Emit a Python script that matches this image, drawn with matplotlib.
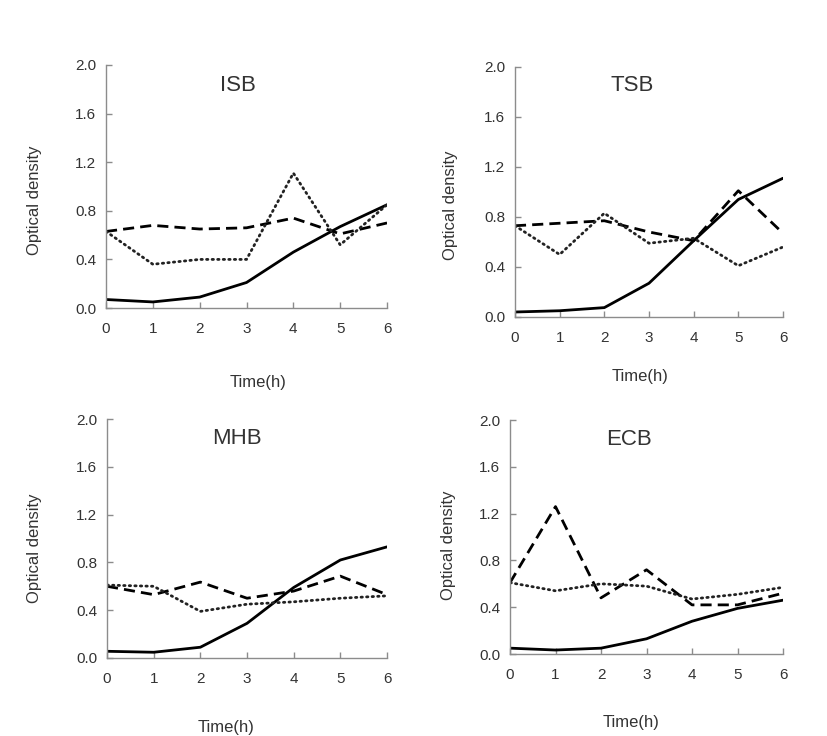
import matplotlib
matplotlib.use("Agg")
import matplotlib.pyplot as plt

plt.rcParams['font.family'] = ['Liberation Sans', 'DejaVu Sans']

# Data (optical density vs time)
hours = [0, 1, 2, 3, 4, 5, 6]

isb_solid = [0.07, 0.05, 0.09, 0.21, 0.46, 0.67, 0.85]
isb_dashed = [0.63, 0.68, 0.65, 0.66, 0.74, 0.61, 0.70]
isb_dotted = [0.63, 0.36, 0.40, 0.40, 1.11, 0.52, 0.85]

tsb_solid = [0.04, 0.05, 0.075, 0.27, 0.61, 0.94, 1.11]
tsb_dashed = [0.73, 0.75, 0.77, 0.68, 0.61, 1.01, 0.67]
tsb_dotted = [0.73, 0.50, 0.83, 0.59, 0.63, 0.41, 0.56]

mhb_solid = [0.056, 0.048, 0.09, 0.29, 0.59, 0.82, 0.93]
mhb_dashed = [0.60, 0.53, 0.635, 0.50, 0.56, 0.685, 0.53]
mhb_dotted = [0.61, 0.60, 0.39, 0.45, 0.47, 0.50, 0.52]

ecb_solid = [0.05, 0.034, 0.05, 0.13, 0.28, 0.39, 0.46]
ecb_dashed = [0.61, 1.26, 0.48, 0.72, 0.42, 0.42, 0.52]
ecb_dotted = [0.61, 0.54, 0.60, 0.58, 0.47, 0.51, 0.57]

titles = ["ISB", "TSB", "MHB", "ECB"]
y_ticks = [0.0, 0.4, 0.8, 1.2, 1.6, 2.0]

# Layout (figure fractions) and label placement (axes fractions)
panels = [
    # rect, title pos, ylabel pos, xlabel pos
    ([0.1282, 0.5815, 0.3398, 0.3302], (0.47, 0.914), (-0.228, 0.444), (0.54, -0.276)),
    ([0.6227, 0.5693, 0.3241, 0.3397], (0.437, 0.924), (-0.213, 0.448), (0.466, -0.208)),
    ([0.1294, 0.1060, 0.3386, 0.3247], (0.464, 0.92), (-0.232, 0.46), (0.425, -0.259)),
    ([0.6167, 0.1114, 0.3301, 0.3179], (0.436, 0.915), (-0.198, 0.466), (0.443, -0.26)),
]
series = [
    (isb_solid, isb_dashed, isb_dotted),
    (tsb_solid, tsb_dashed, tsb_dotted),
    (mhb_solid, mhb_dashed, mhb_dotted),
    (ecb_solid, ecb_dashed, ecb_dotted),
]

TEXT = '#333333'
SPINE = '#8c8c8c'

fig = plt.figure(figsize=(8.27, 7.36), dpi=100)

for (rect, tpos, ypos, xpos), (solid, dashed, dotted), title in zip(panels, series, titles):
    ax = fig.add_axes(rect)
    ax.plot(hours, solid, color='black', lw=2.0, solid_capstyle='round')
    ax.plot(hours, dashed, color='black', lw=2.0, dashes=(4, 2.2))
    ax.plot(hours, dotted, color='#222222', lw=2.0, dashes=(0.5, 1.5),
            dash_capstyle='round')

    ax.set_xlim(0, 6)
    ax.set_ylim(0, 2.0)
    ax.set_xticks(hours)
    ax.set_yticks(y_ticks)
    ax.set_yticklabels([f"{v:.1f}" for v in y_ticks])

    for side in ['top', 'right']:
        ax.spines[side].set_visible(False)
    for side in ['left', 'bottom']:
        ax.spines[side].set_color(SPINE)
        ax.spines[side].set_linewidth(1.0)
    ax.tick_params(axis='both', direction='in', length=4, width=1.0,
                   color=SPINE, labelsize=11, labelcolor=TEXT, pad=7)
    ax.tick_params(axis='x', pad=10)

    ax.text(tpos[0], tpos[1], title, transform=ax.transAxes, ha='center',
            va='center', fontsize=16, color=TEXT)
    ax.set_ylabel("Optical density", fontsize=12, color=TEXT)
    ax.yaxis.set_label_coords(*ypos)
    ax.set_xlabel("Time(h)", fontsize=12, color=TEXT)
    ax.xaxis.set_label_coords(*xpos)

fig.savefig("out.png", dpi=100)
